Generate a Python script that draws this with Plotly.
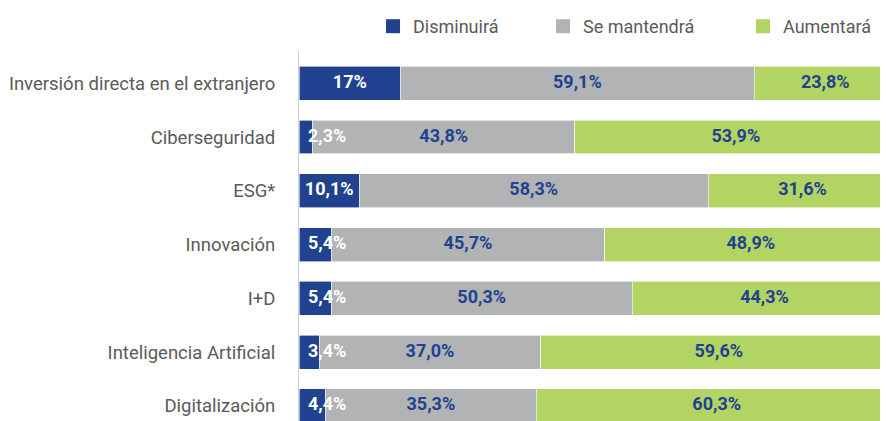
import plotly.graph_objects as go

categories = ["Inversión directa en el extranjero", "Ciberseguridad", "ESG*", "Innovación",
              "I+D", "Inteligencia Artificial", "Digitalización"]
disminuira = [17.0, 2.3, 10.1, 5.4, 5.4, 3.4, 4.4]
se_mantendra = [59.1, 43.8, 58.3, 45.7, 50.3, 37.0, 35.3]
aumentara = [23.8, 53.9, 31.6, 48.9, 44.3, 59.6, 60.3]
dis_labels = ["17%", "2,3%", "10,1%", "5,4%", "5,4%", "3,4%", "4,4%"]
man_labels = ["59,1%", "43,8%", "58,3%", "45,7%", "50,3%", "37,0%", "35,3%"]
aum_labels = ["23,8%", "53,9%", "31,6%", "48,9%", "44,3%", "59,6%", "60,3%"]
series_names = ["Disminuirá", "Se mantendrá", "Aumentará"]

BLUE = "#21428f"
GREY = "#b1b3b4"
GREEN = "#b2d463"
COLORS = [BLUE, GREY, GREEN]
FONT = "Roboto"
TXT = "#5a5a5a"

fig = go.Figure()
for name, vals, col in zip(series_names, [disminuira, se_mantendra, aumentara], COLORS):
    fig.add_bar(y=categories, x=vals, orientation="h", name=name, showlegend=False,
                marker=dict(color=col, line=dict(color="white", width=0.6)))

label_font = dict(family=FONT, size=18, weight="bold")
# labels: Disminuirá (kept readable for narrow segments), Se mantendrá, Aumentará
fig.add_scatter(y=categories, x=[max(d / 2, 4.7) for d in disminuira], mode="text",
                text=dis_labels, showlegend=False, cliponaxis=False,
                textfont=dict(color="white", **label_font))
fig.add_scatter(y=categories, x=[d + m / 2 for d, m in zip(disminuira, se_mantendra)],
                mode="text", text=man_labels, showlegend=False, cliponaxis=False,
                textfont=dict(color=BLUE, **label_font))
fig.add_scatter(y=categories,
                x=[d + m + a / 2 for d, m, a in zip(disminuira, se_mantendra, aumentara)],
                mode="text", text=aum_labels, showlegend=False, cliponaxis=False,
                textfont=dict(color=BLUE, **label_font))

# legend entries (square swatches)
legend_ids = ["legend", "legend2", "legend3"]
for name, col, lid in zip(series_names, COLORS, legend_ids):
    fig.add_scatter(x=[None], y=[None], mode="markers", name=name, legend=lid,
                    marker=dict(symbol="square", size=14, color=col))

PLOT_W = 597
leg_common = dict(orientation="h", yanchor="middle", y=1.0 + 25 / 382, xanchor="left",
                  font=dict(family=FONT, size=18, color=TXT),
                  bgcolor="rgba(0,0,0,0)", borderwidth=0)

fig.update_layout(
    width=888, height=421,
    margin=dict(l=291, r=0, t=39, b=0),
    barmode="stack", bargap=0.37,
    plot_bgcolor="white", paper_bgcolor="white",
    font=dict(family=FONT),
    showlegend=True,
    legend=dict(x=(373 - 299) / PLOT_W, **leg_common),
    legend2=dict(x=(543 - 299) / PLOT_W, **leg_common),
    legend3=dict(x=(743 - 299) / PLOT_W, **leg_common),
    xaxis=dict(range=[0, PLOT_W / 5.98], visible=False, fixedrange=True),
    yaxis=dict(categoryorder="array", categoryarray=categories,
               range=[6.43, -0.6], showline=True, linecolor="#d0d0d0", linewidth=1,
               showgrid=False, zeroline=False, ticks="", ticklabelstandoff=19,
               tickfont=dict(family=FONT, size=18.5, color=TXT)),
)

fig.write_html("out.html")
